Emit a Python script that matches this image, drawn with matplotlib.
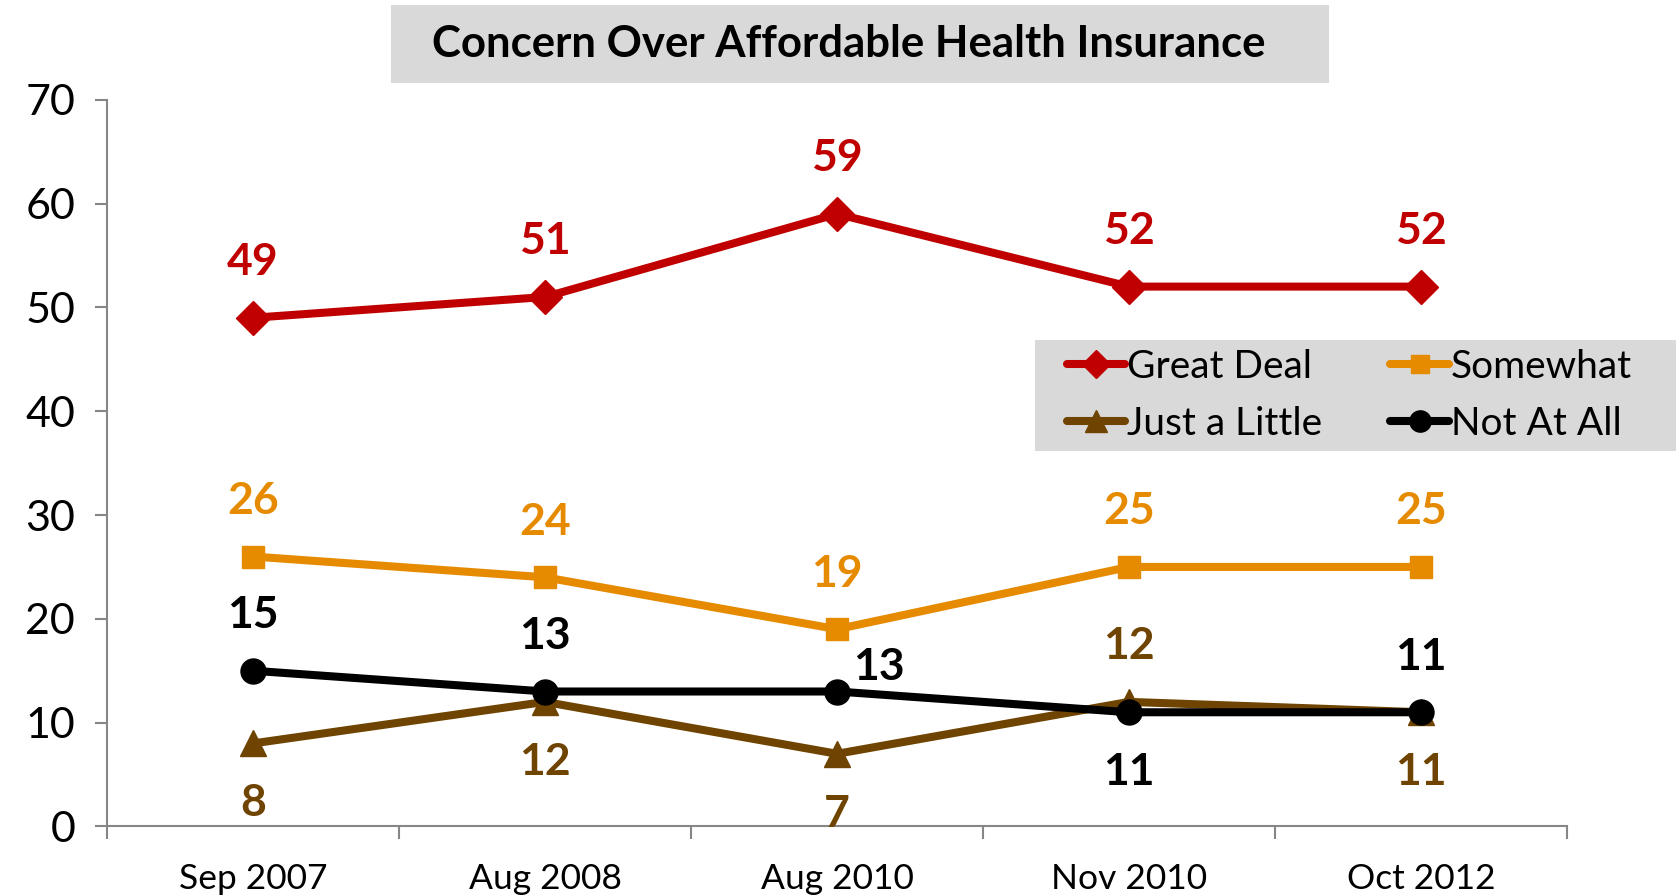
import matplotlib
matplotlib.use("Agg")
import matplotlib.pyplot as plt
from matplotlib.patches import Rectangle

# Survey waves and shares (%) for each level of concern
waves = ["Sep 2007", "Aug 2008", "Aug 2010", "Nov 2010", "Oct 2012"]
great_deal = [49, 51, 59, 52, 52]
somewhat = [26, 24, 19, 25, 25]
just_a_little = [8, 12, 7, 12, 11]
not_at_all = [15, 13, 13, 11, 11]

plt.rcParams["font.family"] = ["Lato", "DejaVu Sans"]

fig = plt.figure(figsize=(16.81, 8.96), dpi=100)
ax = fig.add_axes([0.0637, 0.0776, 0.8685, 0.8111])
ax.patch.set_visible(False)

x = list(range(len(waves)))

# label offsets in points: (dx, dy) for each point of each series
up, down = (0, 40), (0, -43)
series = [
    ("Great Deal", great_deal, "#C00000", "D", 17, [up, up, up, up, up]),
    ("Somewhat", somewhat, "#E68A00", "s", 16, [up, up, up, up, up]),
    ("Just a Little", just_a_little, "#6F4300", "^", 19, [down, down, down, up, down]),
    ("Not At All", not_at_all, "#000000", "o", 18, [up, up, (30, 18), down, up]),
]

handles = []
for name, vals, col, mk, ms, offs in series:
    ln, = ax.plot(x, vals, color=col, lw=5.8, marker=mk, markersize=ms,
                  markeredgecolor=col, label=name, solid_capstyle="round")
    handles.append(ln)
    for xi, v, off in zip(x, vals, offs):
        ax.annotate(str(v), (xi, v), xytext=off, textcoords="offset points",
                    ha="center", va="center", fontsize=32, fontweight="bold",
                    color=col)

ax.set_xlim(-0.5, len(waves) - 0.5)
ax.set_ylim(0, 70)
ax.set_yticks(range(0, 71, 10))
ax.set_xticks(x)
ax.set_xticklabels(waves, fontsize=25.5)
ax.set_xticks([i + 0.5 for i in range(-1, len(waves))], minor=True)
ax.tick_params(axis="x", which="major", length=0, pad=26)
ax.tick_params(axis="x", which="minor", length=9, color="#868686", width=1.5)
ax.tick_params(axis="y", labelsize=31, length=9, color="#868686", width=1.5, pad=14)

for s in ["top", "right"]:
    ax.spines[s].set_visible(False)
for s in ["left", "bottom"]:
    ax.spines[s].set_color("#868686")
    ax.spines[s].set_linewidth(1.5)

# title on a grey band
fig.patches.append(Rectangle((391 / 1681, 1 - 83 / 896), (1329 - 391) / 1681,
                             78 / 896, transform=fig.transFigure,
                             facecolor="#D9D9D9", edgecolor="none", zorder=-1))
fig.text(849 / 1681, 1 - 44 / 896, "Concern Over Affordable Health Insurance",
         ha="center", va="center", fontsize=31.5, fontweight="bold")

# grey legend panel, legend itself drawn without a frame on top of it
fig.patches.append(Rectangle((1035 / 1681, 1 - 451 / 896), (1676 - 1035) / 1681,
                             111 / 896, transform=fig.transFigure,
                             facecolor="#D9D9D9", edgecolor="none", zorder=-1))

# row-wise legend order: Great Deal, Somewhat / Just a Little, Not At All
order = [0, 2, 1, 3]
ax.legend([handles[i] for i in order], [series[i][0] for i in order],
          ncol=2, loc="upper left", bbox_to_anchor=(1067 / 1681, 1 - 349 / 896),
          bbox_transform=fig.transFigure, fontsize=28, frameon=False,
          handlelength=1.5, handletextpad=0.05, columnspacing=1.75,
          borderpad=0, borderaxespad=0, labelspacing=0.54, markerscale=0.85)

fig.savefig("out.png", dpi=100)
